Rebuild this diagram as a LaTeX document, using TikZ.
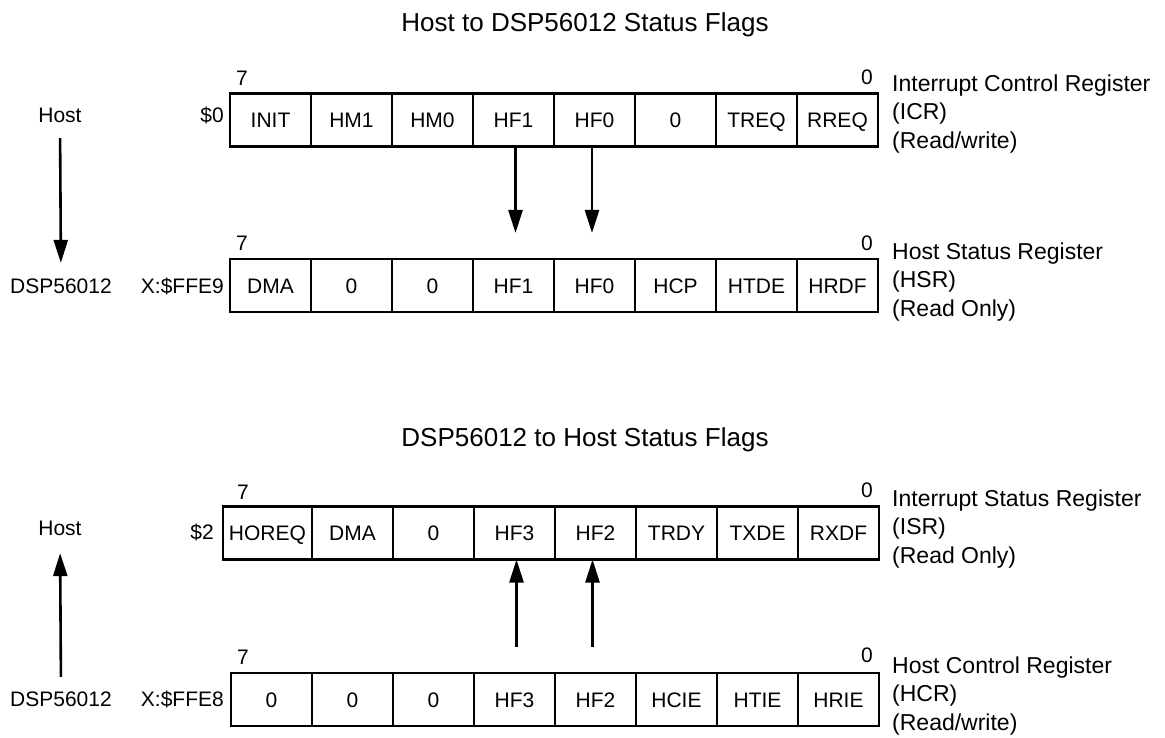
\documentclass[tikz,border=0pt]{standalone}
\usepackage{fontspec}
\setmainfont{Liberation Sans}
\usetikzlibrary{arrows.meta}
\begin{document}
\begin{tikzpicture}[x=1pt,y=-1pt,
  cell/.style={draw, line width=2.6pt, minimum height=53pt, minimum width=81pt,
    inner sep=0pt, outer sep=0pt, anchor=west,
    font=\fontsize{21}{25}\selectfont, text height=15pt, text depth=0pt},
  lbl/.style={inner sep=0pt, font=\fontsize{21}{25}\selectfont, text height=15pt, text depth=0pt},
  reglbl/.style={inner sep=0pt, anchor=west, align=left, font=\fontsize{23}{28.5}\selectfont},
  ttl/.style={inner sep=0pt, font=\fontsize{26}{30}\selectfont, text height=18.5pt, text depth=0pt},
  arr/.style={line width=2.6pt, -{Triangle[length=23pt,width=14pt]}}
]
\useasboundingbox (0,0) rectangle (1165,738);

% ---------- Titles ----------
\node[ttl] (t1) at (585,22) {Host to DSP56012 Status Flags};
\node[ttl] (t2) at (585,437) {DSP56012 to Host Status Flags};

% ---------- ICR ----------
\foreach \t [count=\i from 0] in {INIT,HM1,HM0,HF1,HF0,0,TREQ,RREQ}
  \node[cell] (icr\i) at ({230+81*\i},120) {\t};
% ---------- HSR ----------
\foreach \t [count=\i from 0] in {DMA,0,0,HF1,HF0,HCP,HTDE,HRDF}
  \node[cell] (hsr\i) at ({230+81*\i},285.5) {\t};
% ---------- ISR ----------
\node[cell, minimum width=89pt] (isr0) at (223,533) {HOREQ};
\foreach \t [count=\i from 1] in {DMA,0,HF3,HF2,TRDY,TXDE,RXDF}
  \node[cell] (isr\i) at ({312+81*(\i-1)},533) {\t};
% ---------- HCR ----------
\foreach \t [count=\i from 0] in {0,0,0,HF3,HF2,HCIE,HTIE,HRIE}
  \node[cell] (hcr\i) at ({231+81*\i},699.5) {\t};

% ---------- bit numbers ----------
\node[lbl] (b7a) at (242,78) {7};
\node[lbl] (b0a) at (867,77) {0};
\node[lbl] (b7b) at (242,243) {7};
\node[lbl] (b0b) at (867,243) {0};
\node[lbl] (b7c) at (243,492) {7};
\node[lbl] (b0c) at (867,490) {0};
\node[lbl] (b7d) at (243,657) {7};
\node[lbl] (b0d) at (867,655) {0};

% ---------- addresses ----------
\node[lbl, anchor=east] (a0) at (224,115) {\$0};
\node[lbl, anchor=east] (a1) at (224,286) {X:\$FFE9};
\node[lbl, anchor=east] (a2) at (214,532) {\$2};
\node[lbl, anchor=east] (a3) at (224,699) {X:\$FFE8};

% ---------- Host / DSP labels ----------
\node[lbl] (h1) at (60,115) {Host};
\node[lbl] (d1) at (61,286) {DSP56012};
\node[lbl] (h2) at (60,528) {Host};
\node[lbl] (d2) at (61,699) {DSP56012};
\draw[arr, shorten <=15.5pt, shorten >=15.5pt] (h1.south) -- (d1.north);
\draw[arr, shorten <=14.5pt, shorten >=17.5pt] (d2.north) -- (h2.south);

% ---------- register descriptions ----------
\node[reglbl] (r1) at (892,114) {Interrupt Control Register\\(ICR)\\(Read/write)};
\node[reglbl] (r2) at (892,282) {Host Status Register\\(HSR)\\(Read Only)};
\node[reglbl] (r3) at (892,529) {Interrupt Status Register\\(ISR)\\(Read Only)};
\node[reglbl] (r4) at (892,696) {Host Control Register\\(HCR)\\(Read/write)};

% ---------- flag arrows ----------
\coordinate (e1) at ([yshift=26pt]hsr3.north);
\coordinate (e2) at ([yshift=26pt]hsr4.north);
\draw[arr] ([xshift=2pt]icr3.south) -- ([xshift=2pt]e1);
\draw[arr] ([xshift=-2.5pt]icr4.south) -- ([xshift=-2.5pt]e2);
\coordinate (s1) at ([yshift=26pt]hcr3.north);
\coordinate (s2) at ([yshift=26pt]hcr4.north);
\draw[arr] ([xshift=2pt]s1) -- ([xshift=2pt]isr3.south);
\draw[arr] ([xshift=-3pt]s2) -- ([xshift=-3pt]isr4.south);
\end{tikzpicture}
\end{document}
